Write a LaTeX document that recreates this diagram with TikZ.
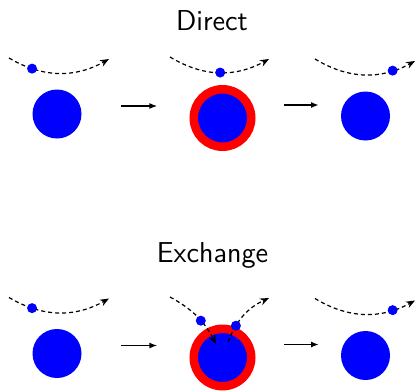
\documentclass[tikz,border=0pt]{standalone}
\usepackage{tikz}
\usetikzlibrary{arrows.meta,calc}
\tikzset{
  nucleus/.style={circle, fill=blue, inner sep=0pt, minimum size=24.5pt},
  excited/.style={nucleus, draw=red, line width=4.25pt, minimum size=28.75pt},
  particle/.style={circle, fill=blue, inner sep=0pt, minimum size=5pt},
  trajline/.style={semithick, dash pattern=on 2pt off 1.5pt,
    -{Stealth[length=4.5pt,width=3.5pt]}},
  steparrow/.style={thick, -{Latex[length=4pt,width=3pt]}},
  rowtitle/.style={font=\Large\sffamily, anchor=base}
}

\begin{document}
\begin{tikzpicture}[x=0.5pt, y=-0.5pt]
  \useasboundingbox (0,0) rectangle (417,391);

  % ---- top row: direct ---------------------------------------
  \node[rowtitle] (dtitle) at (212,30) {Direct};

  \node[nucleus] (d1) at (57,114)    {};
  \node[excited] (d2) at (222.5,118) {};
  \node[nucleus] (d3) at (365.5,116) {};

  \coordinate (din1)  at (9,58);
  \coordinate (dout1) at (109,59);
  \coordinate (din2)  at (170,57);
  \coordinate (dout2) at (269,59);
  \coordinate (din3)  at (315,59);
  \coordinate (dout3) at (415,61);

  \draw[trajline] (din1) to[bend right=30] node[particle, pos=0.23] (dp1) {} (dout1);
  \draw[trajline] (din2) to[bend right=30] node[particle, pos=0.51] (dp2) {} (dout2);
  \draw[trajline] (din3) to[bend right=30] node[particle, pos=0.78] (dp3) {} (dout3);

  \draw[steparrow] ($(d1.east)+(39.5,-8)$)  -- ++(36,0);
  \draw[steparrow] ($(d2.east)+(28.5,-13)$) -- ++(35,0);

  % ---- bottom row: exchange ----------------------------------
  \node[rowtitle] (etitle) at (212.5,262) {Exchange};

  \begin{scope}[shift={(0,239.5)}]
    \node[nucleus] (e1) at (57,114)    {};
    \node[excited] (e2) at (222.5,118) {};
    \node[nucleus] (e3) at (365.5,116) {};

    \coordinate (ein1)  at (9,58);
    \coordinate (eout1) at (109,59);
    \coordinate (ein2)  at (170,57.5);
    \coordinate (ecap2) at (216,104.5);
    \coordinate (eemit) at (228,102.5);
    \coordinate (eout2) at (269,58.5);
    \coordinate (ein3)  at (315,59);
    \coordinate (eout3) at (415,61);

    \draw[trajline] (ein1) to[bend right=30] node[particle, pos=0.23] (ep1) {} (eout1);
    \draw[trajline] (ein2) to[bend left=17] node[particle, pos=0.59] (ep2) {} (ecap2);
    \draw[trajline] (eemit) to[bend left=22] node[particle, pos=0.28] (ep3) {} (eout2);
    \draw[trajline] (ein3) to[bend right=30] node[particle, pos=0.78] (ep4) {} (eout3);

    \draw[steparrow] ($(e1.east)+(39.5,-8)$)  -- ++(36,0);
    \draw[steparrow] ($(e2.east)+(28.5,-13)$) -- ++(35,0);
  \end{scope}

\end{tikzpicture}
\end{document}
